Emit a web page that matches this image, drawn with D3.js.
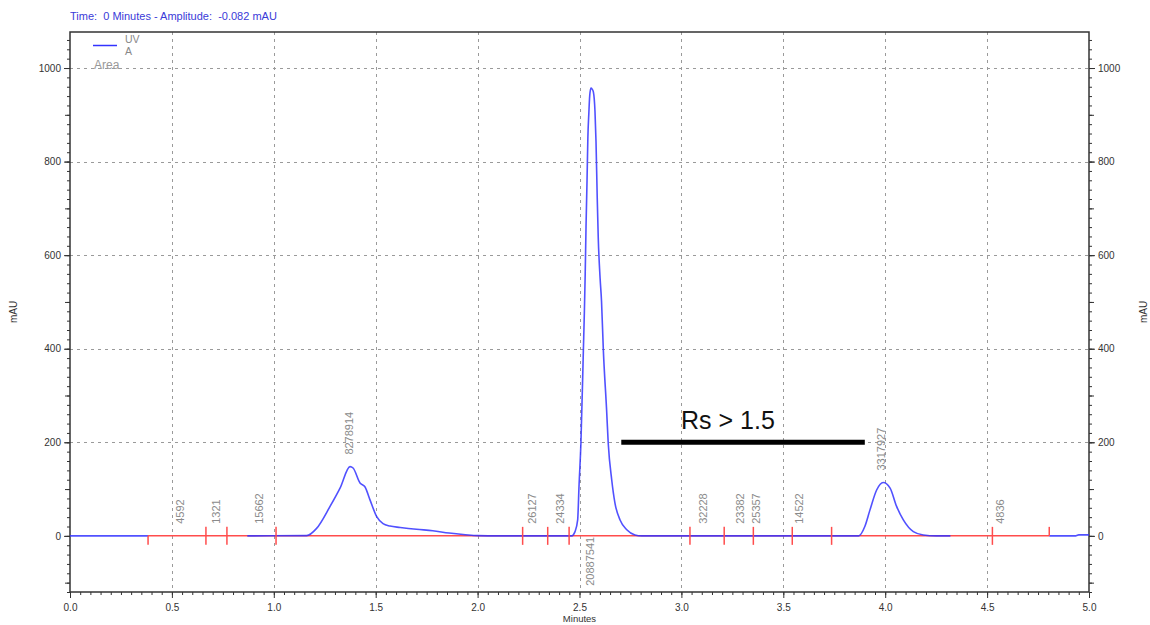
<!DOCTYPE html>
<html>
<head>
<meta charset="utf-8">
<script src="https://cdn.jsdelivr.net/npm/d3@7"></script>
<style>
  body { margin: 0; background: #fff; }
  svg { font-family: Arial, "Liberation Sans", sans-serif; }
</style>
</head>
<body>
<svg width="1150" height="625"></svg>
<script>
// chromatogram trace (minutes, mAU)
const traceTime = [0, 0.383,
    0.87, 1.161, 1.21, 1.276, 1.325, 1.374, 1.389, 1.423, 1.447, 1.472, 1.505, 1.536, 1.57,
    1.62, 1.70, 1.78, 1.86, 1.94, 2.0, 2.10, 2.462, 2.478, 2.491, 2.4975, 2.507, 2.519,
    2.524, 2.528, 2.532, 2.537, 2.541, 2.546, 2.550, 2.556, 2.562, 2.568, 2.576, 2.581,
    2.587, 2.592, 2.601, 2.608, 2.617, 2.633, 2.641, 2.658, 2.674, 2.699, 2.732, 2.772,
    2.805, 3.87, 3.90, 3.925, 3.958, 3.99, 4.024, 4.056, 4.089, 4.138, 4.187, 4.25, 4.32,
    4.805, 4.93, 4.95, 5.0];
const traceMau = [0, 0,
    0, 0.5, 16, 63, 102, 148, 145, 113, 105, 77, 41, 26, 21,
    18, 14, 11, 6, 2.5, 0.5, 0, 0, 9, 34, 105, 199, 397,
    480, 560, 660, 760, 850, 905, 940, 957, 955, 949, 907, 843,
    722, 637, 551, 502, 397, 269, 198, 120, 70, 34, 13, 2,
    0, 0, 20, 55, 98, 114, 102, 63, 34, 9, 2, 0, 0,
    0, 0, 2, 2];
// parts of the trace that are drawn (elsewhere only the baseline shows)
const traceShown = [[0, 0.383], [0.87, 4.32], [4.805, 5.0]];

const baselineRange = [0.383, 4.805];
const eventTimes = [0.383, 0.667, 0.77, 1.011, 2.221, 2.344, 2.449, 3.042, 3.21, 3.353, 3.544, 3.737, 4.526, 4.805];
const eventKinds = ["down", "full", "full", "full", "full", "full", "full", "full", "full", "full", "full", "full", "full", "up"];

const peakTimes = [0.545, 0.72, 0.932, 1.374, 2.27, 2.41, 2.557, 3.11, 3.295, 3.37, 3.58, 3.983, 4.57];
const peakAreas = ["4592", "1321", "15662", "8278914", "26127", "24334", "20887541", "32228", "23382", "25357", "14522", "3317927", "4836"];
const peakPlace = ["base", "base", "base", "apex", "base", "base", "below", "base", "base", "base", "base", "apex", "base"];

const xTickValues = [0, 0.5, 1, 1.5, 2, 2.5, 3, 3.5, 4, 4.5, 5];
const yTickValues = [0, 200, 400, 600, 800, 1000];

const rsRange = [2.705, 3.90];
const rsLevel = 200;
const rsText = "Rs > 1.5";

const headerText = "Time:  0 Minutes - Amplitude:  -0.082 mAU";

const plotLeft = 70, plotRight = 1089, plotTop = 32, plotBottom = 592;

const svg = d3.select("svg");

const x = d3.scaleLinear().domain([0, 5]).range([plotLeft, plotRight]);
const y = d3.scaleLinear().domain([-120, 1077]).range([plotBottom, plotTop]);

// grid
const grid = svg.append("g").attr("class", "grid")
    .attr("stroke", "#9a9a9a").attr("stroke-width", 1).attr("stroke-dasharray", "3,4");
grid.selectAll("line.v")
    .data(xTickValues.filter(d => d > 0 && d < 5))
    .enter().append("line")
    .attr("class", "v")
    .attr("x1", d => Math.round(x(d)) + 0.5).attr("x2", d => Math.round(x(d)) + 0.5)
    .attr("y1", plotTop).attr("y2", plotBottom);
grid.selectAll("line.h")
    .data(yTickValues.filter(d => d > 0))
    .enter().append("line")
    .attr("class", "h")
    .attr("x1", plotLeft).attr("x2", plotRight)
    .attr("y1", d => Math.round(y(d)) + 0.5).attr("y2", d => Math.round(y(d)) + 0.5);

// axes
function styleAxis(g) {
    g.select(".domain").remove();
    g.selectAll("line").attr("stroke", "#333");
    g.selectAll("text").attr("fill", "#333").style("font-size", "10px");
}

const xMinor = d3.range(0, 101).map(i => i * 0.05);
svg.append("g")
    .attr("transform", `translate(0,${plotBottom})`)
    .call(d3.axisBottom(x).tickValues(xMinor).tickSize(3).tickFormat(""))
    .call(styleAxis);
svg.append("g")
    .attr("transform", `translate(0,${plotBottom})`)
    .call(d3.axisBottom(x).tickValues(xTickValues).tickSize(6).tickPadding(6).tickFormat(d3.format(".1f")))
    .call(styleAxis);

const yMinor = d3.range(-120, 1077, 20);
const yMid = yMinor.filter(d => d % 100 === 0);
[[d3.axisLeft, plotLeft], [d3.axisRight, plotRight]].forEach(([axis, pos]) => {
    svg.append("g")
        .attr("transform", `translate(${pos},0)`)
        .call(axis(y).tickValues(yMinor).tickSize(3).tickFormat(""))
        .call(styleAxis);
    svg.append("g")
        .attr("transform", `translate(${pos},0)`)
        .call(axis(y).tickValues(yMid).tickSize(5).tickFormat(""))
        .call(styleAxis);
    svg.append("g")
        .attr("transform", `translate(${pos},0)`)
        .call(axis(y).tickValues(yTickValues).tickSize(6).tickPadding(3).tickFormat(d3.format("d")))
        .call(styleAxis);
});

// frame
svg.append("rect")
    .attr("x", plotLeft).attr("y", plotTop)
    .attr("width", plotRight - plotLeft).attr("height", plotBottom - plotTop)
    .attr("fill", "none").attr("stroke", "#333").attr("stroke-width", 1.5);

// axis titles
svg.append("text")
    .attr("transform", `translate(17,${(plotTop + plotBottom) / 2}) rotate(-90)`)
    .attr("text-anchor", "middle")
    .attr("fill", "#333").style("font-size", "10px")
    .text("mAU");
svg.append("text")
    .attr("transform", `translate(1147,${(plotTop + plotBottom) / 2}) rotate(-90)`)
    .attr("text-anchor", "middle")
    .attr("fill", "#333").style("font-size", "10px")
    .text("mAU");
svg.append("text")
    .attr("x", (plotLeft + plotRight) / 2).attr("y", 622)
    .attr("text-anchor", "middle")
    .attr("fill", "#333").style("font-size", "9.5px")
    .text("Minutes");

// header
svg.append("text")
    .attr("x", plotLeft).attr("y", 20)
    .attr("fill", "#3a3ad8").style("font-size", "11px")
    .style("white-space", "pre")
    .text(headerText);

// legend
svg.append("line")
    .attr("x1", 93).attr("x2", 117).attr("y1", 45.5).attr("y2", 45.5)
    .attr("stroke", "#3333ff").attr("stroke-width", 1.5);
svg.append("text").attr("x", 125).attr("y", 43)
    .attr("fill", "#888").style("font-size", "10.5px").text("UV");
svg.append("text").attr("x", 125).attr("y", 55)
    .attr("fill", "#888").style("font-size", "10.5px").text("A");
svg.append("text").attr("x", 94).attr("y", 69)
    .attr("fill", "#999").style("font-size", "12px").text("Area");

// baseline
svg.append("line")
    .attr("x1", x(baselineRange[0])).attr("x2", x(baselineRange[1]))
    .attr("y1", y(0)).attr("y2", y(0))
    .attr("stroke", "#ff4d4d").attr("stroke-width", 1.5);

// trace
const points = traceTime.map((t, i) => ({t, v: traceMau[i]}));
const line = d3.line().x(d => x(d.t)).y(d => y(d.v)).curve(d3.curveMonotoneX);
svg.append("g").attr("class", "trace")
    .selectAll("path")
    .data(traceShown.map(([a, b]) => points.filter(p => p.t >= a && p.t <= b)))
    .enter().append("path")
    .attr("d", line)
    .attr("fill", "none")
    .attr("stroke", "#3333ff")
    .attr("stroke-opacity", 0.85)
    .attr("stroke-width", 1.6);

// event marks
svg.append("g").attr("class", "events")
    .selectAll("line")
    .data(eventTimes.map((t, i) => ({t, kind: eventKinds[i]})))
    .enter().append("line")
    .attr("x1", d => x(d.t)).attr("x2", d => x(d.t))
    .attr("y1", d => d.kind === "down" ? y(0) : y(0) - 9)
    .attr("y2", d => d.kind === "up" ? y(0) : y(0) + 9)
    .attr("stroke", "#ff4d4d").attr("stroke-width", 1.5);

// peak labels
const apexOf = t => {
    const near = points.filter(p => Math.abs(p.t - t) < 0.03);
    return d3.max(near, p => p.v);
};
svg.append("g").attr("class", "peak-labels")
    .selectAll("text")
    .data(peakTimes.map((t, i) => ({t, label: peakAreas[i], place: peakPlace[i]})))
    .enter().append("text")
    .attr("transform", d => {
        let py = y(0) - 12;
        if (d.place === "apex") py = y(apexOf(d.t)) - 12;
        if (d.place === "below") py = y(0) + 1;
        return `translate(${x(d.t)},${py}) rotate(-90)`;
    })
    .attr("text-anchor", d => d.place === "below" ? "end" : "start")
    .attr("dominant-baseline", "middle")
    .attr("fill", "#8a8a8a").style("font-size", "11px")
    .text(d => d.label);

// resolution annotation
svg.append("line")
    .attr("x1", x(rsRange[0])).attr("x2", x(rsRange[1]))
    .attr("y1", y(rsLevel)).attr("y2", y(rsLevel))
    .attr("stroke", "#000").attr("stroke-width", 5);
svg.append("text")
    .attr("x", 681).attr("y", 429)
    .attr("fill", "#111").style("font-size", "25px")
    .text(rsText);
</script>
</body>
</html>
